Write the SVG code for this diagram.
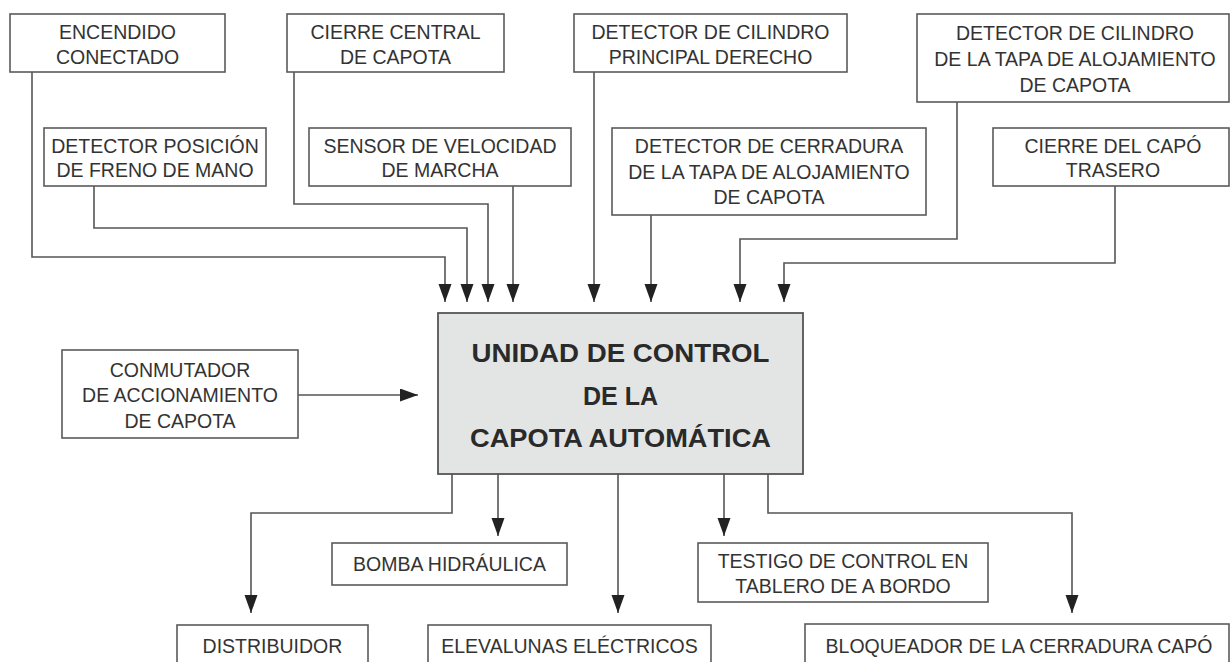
<svg xmlns="http://www.w3.org/2000/svg" width="1232" height="662" viewBox="0 0 1232 662">
<style>
.box{fill:#ffffff;stroke:#5a5a5a;stroke-width:1.6}
.main{fill:#e3e5e5;stroke:#555;stroke-width:1.8}
.t{font-family:"Liberation Sans",Arial,sans-serif;font-size:19.5px;fill:#333;text-anchor:middle}
.tb{font-family:"Liberation Sans",Arial,sans-serif;font-size:25px;font-weight:bold;fill:#2a2a2a;text-anchor:middle}
.c{fill:none;stroke:#555;stroke-width:1.6}
</style>
<defs>
<marker id="ah" markerUnits="userSpaceOnUse" markerWidth="20" markerHeight="14" refX="18" refY="6.5" orient="auto">
<path d="M0,0 L18,6.5 L0,13 z" fill="#222"/>
</marker>
</defs>
<rect width="1232" height="662" fill="#fff"/>
<g id="connectors">
<path class="c" marker-end="url(#ah)" d="M32,72 V257 H445 V302"/>
<path class="c" marker-end="url(#ah)" d="M94,186 V228 H467 V302"/>
<path class="c" marker-end="url(#ah)" d="M294,72 V204 H488 V302"/>
<path class="c" marker-end="url(#ah)" d="M513,186 V302"/>
<path class="c" marker-end="url(#ah)" d="M594,72 V302"/>
<path class="c" marker-end="url(#ah)" d="M651,215 V302"/>
<path class="c" marker-end="url(#ah)" d="M957,102 V239 H740 V302"/>
<path class="c" marker-end="url(#ah)" d="M1115,186 V263 H784 V302"/>
<path class="c" marker-end="url(#ah)" d="M298,395 H418"/>
<path class="c" marker-end="url(#ah)" d="M452,474 V513 H251 V613"/>
<path class="c" marker-end="url(#ah)" d="M498,474 V536"/>
<path class="c" marker-end="url(#ah)" d="M618,474 V613"/>
<path class="c" marker-end="url(#ah)" d="M724,474 V536"/>
<path class="c" marker-end="url(#ah)" d="M768,474 V513 H1072 V613"/>
</g>
<g id="encendido">
<rect class="box" x="10" y="14" width="215" height="58"/>
<text class="t" x="117.5" y="39">ENCENDIDO</text>
<text class="t" x="117.5" y="64">CONECTADO</text>
</g>
<g id="cierre-central">
<rect class="box" x="287" y="14" width="217" height="58"/>
<text class="t" x="395.5" y="39">CIERRE CENTRAL</text>
<text class="t" x="395.5" y="64">DE CAPOTA</text>
</g>
<g id="detector-cilindro-principal">
<rect class="box" x="574" y="14" width="273" height="58"/>
<text class="t" x="710.5" y="39">DETECTOR DE CILINDRO</text>
<text class="t" x="710.5" y="64">PRINCIPAL DERECHO</text>
</g>
<g id="detector-cilindro-tapa">
<rect class="box" x="917" y="14" width="312" height="88"/>
<text class="t" x="1075" y="40">DETECTOR DE CILINDRO</text>
<text class="t" x="1075" y="66">DE LA TAPA DE ALOJAMIENTO</text>
<text class="t" x="1075" y="92">DE CAPOTA</text>
</g>
<g id="detector-posicion">
<rect class="box" x="44" y="128" width="222" height="58"/>
<text class="t" x="155" y="153">DETECTOR POSICIÓN</text>
<text class="t" x="155" y="177">DE FRENO DE MANO</text>
</g>
<g id="sensor-velocidad">
<rect class="box" x="309" y="128" width="262" height="58"/>
<text class="t" x="440" y="153">SENSOR DE VELOCIDAD</text>
<text class="t" x="440" y="177">DE MARCHA</text>
</g>
<g id="detector-cerradura">
<rect class="box" x="612" y="128" width="314" height="87"/>
<text class="t" x="769" y="153">DETECTOR DE CERRADURA</text>
<text class="t" x="769" y="179">DE LA TAPA DE ALOJAMIENTO</text>
<text class="t" x="769" y="204">DE CAPOTA</text>
</g>
<g id="cierre-capo">
<rect class="box" x="993" y="128" width="236" height="58"/>
<text class="t" x="1113" y="153">CIERRE DEL CAPÓ</text>
<text class="t" x="1113" y="177">TRASERO</text>
</g>
<g id="conmutador">
<rect class="box" x="62" y="350" width="236" height="88"/>
<text class="t" x="180" y="377">CONMUTADOR</text>
<text class="t" x="180" y="402">DE ACCIONAMIENTO</text>
<text class="t" x="180" y="428">DE CAPOTA</text>
</g>
<g id="unidad-control">
<rect class="main" x="438" y="313" width="365" height="161"/>
<text class="tb" x="620.5" y="362" textLength="298" lengthAdjust="spacingAndGlyphs">UNIDAD DE CONTROL</text>
<text class="tb" x="620.5" y="405">DE LA</text>
<text class="tb" x="620.5" y="447" textLength="301" lengthAdjust="spacingAndGlyphs">CAPOTA AUTOMÁTICA</text>
</g>
<g id="bomba">
<rect class="box" x="332" y="543" width="235" height="42"/>
<text class="t" x="449.5" y="571">BOMBA HIDRÁULICA</text>
</g>
<g id="testigo">
<rect class="box" x="698" y="543" width="290" height="59"/>
<text class="t" x="843" y="568">TESTIGO DE CONTROL EN</text>
<text class="t" x="843" y="593">TABLERO DE A BORDO</text>
</g>
<g id="distribuidor">
<rect class="box" x="177" y="625" width="191" height="60"/>
<text class="t" x="272.5" y="653">DISTRIBUIDOR</text>
</g>
<g id="elevalunas">
<rect class="box" x="428" y="625" width="283" height="60"/>
<text class="t" x="569.5" y="653">ELEVALUNAS ELÉCTRICOS</text>
</g>
<g id="bloqueador">
<rect class="box" x="805" y="624" width="424" height="60"/>
<text class="t" x="1019" y="653">BLOQUEADOR DE LA CERRADURA CAPÓ</text>
</g>
</svg>
